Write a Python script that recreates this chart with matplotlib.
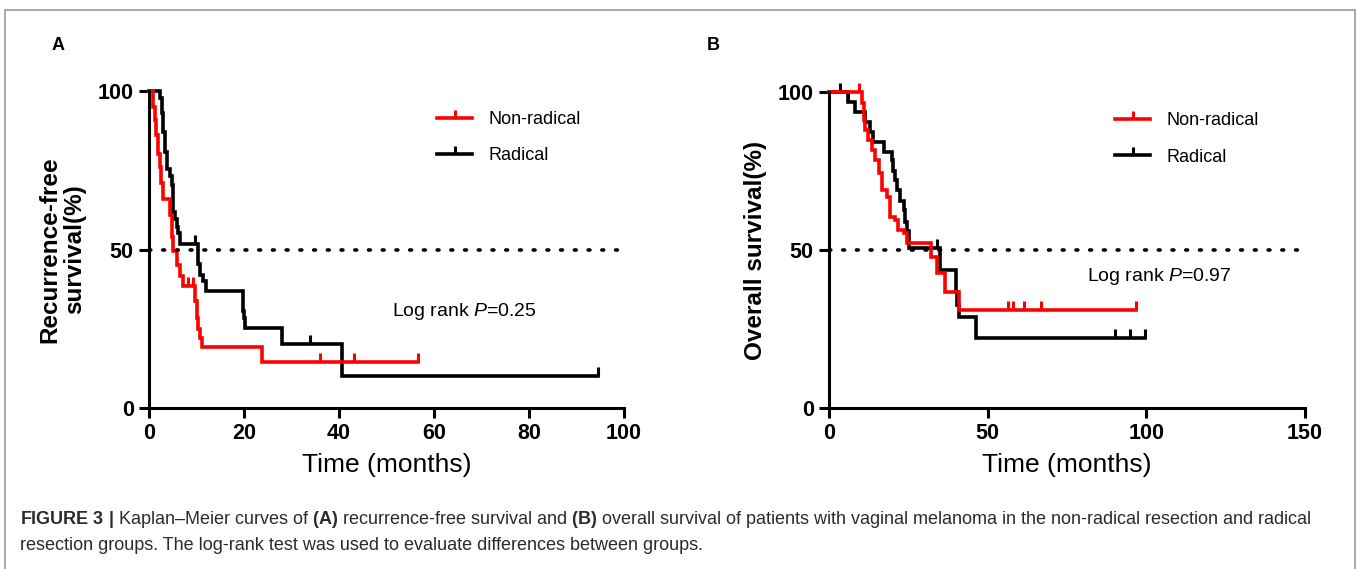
import matplotlib
matplotlib.use("Agg")
import matplotlib.pyplot as plt
import numpy as np
from matplotlib.lines import Line2D
from matplotlib.patches import Rectangle

plt.rcParams['font.family'] = ['Liberation Sans', 'DejaVu Sans']
plt.rcParams['mathtext.fontset'] = 'custom'
plt.rcParams['mathtext.rm'] = 'Liberation Sans'
plt.rcParams['mathtext.it'] = 'Liberation Sans:italic'
plt.rcParams['mathtext.bf'] = 'Liberation Sans:bold'

# panel A: recurrence-free survival (step times in months, survival in %)
a_rad_t = [0, 2.3, 2.7, 3.0, 3.4, 3.7, 4.4, 4.8, 5.1, 5.5, 5.8, 6.2, 6.5,
           10.4, 10.8, 11.4, 12.1, 19.7, 20.0, 20.3, 27.9, 40.6, 94.6]
a_rad_s = [100, 97.7, 93, 87, 80.7, 75.4, 73.3, 70.2, 61.7, 59.6, 57, 55.3, 51.6,
           45.3, 42, 40, 36.8, 30.5, 28.4, 25.2, 20.1, 10.2, 10.2]
a_rad_cens = [9.7, 33.9, 94.6]

a_non_t = [0, 0.9, 1.2, 1.5, 1.9, 2.3, 2.6, 2.9, 4.4, 4.8, 5.1, 5.8, 6.5, 7.2,
           9.7, 10.1, 10.4, 10.7, 11.1, 23.7, 56.7]
a_non_s = [100, 95, 91, 86, 80, 76, 71, 66, 61, 54, 49.5, 45, 41.6, 38.4,
           33.6, 28.5, 25, 22, 19.4, 14.6, 14.6]
a_non_cens = [8.3, 9.3, 36.0, 43.2, 56.7]

# panel B: overall survival
b_rad_t = [0, 6.0, 8.2, 11.4, 13.0, 13.9, 17.2, 19.8, 20.3, 20.8, 21.4, 22.5, 23.5,
           24.0, 24.5, 25.1, 35.1, 39.9, 40.4, 40.9, 46.2, 99.7]
b_rad_s = [100, 96.9, 93.8, 90.6, 87.4, 84.3, 81.1, 78.5, 75, 72, 69, 65.6, 62.7,
           59, 56, 50.5, 43.7, 36.8, 32.5, 28.9, 22, 22]
b_rad_cens = [3.5, 6.0, 34.1, 90.0, 94.7, 99.7]

b_non_t = [0, 10.3, 10.9, 11.4, 12.4, 13.5, 14.5, 15.6, 16.7, 18.2, 19.3, 20.9,
           21.9, 23.5, 24.6, 32.0, 34.1, 36.7, 40.9, 96.8]
b_non_s = [100, 96.4, 91, 88, 84.8, 81.6, 78.5, 74.3, 69, 66.8, 60.5, 59.5,
           56.3, 55.3, 52.1, 47.9, 42.6, 36.8, 31, 31]
b_non_cens = [9.5, 56.5, 58.0, 61.5, 66.8, 96.8]

W, H = 1358, 569
fig = plt.figure(figsize=(W / 100, H / 100), dpi=100)

tick_mark = [(0, 0), (0, 1)]


def px(x, y):
    return x / W, 1 - y / H


def km(ax, t, s, cens, color):
    ax.step(t, s, where='post', color=color, lw=2.6, solid_joinstyle='miter', clip_on=False)
    idx = np.searchsorted(t, cens, side='right') - 1
    ax.plot(cens, np.array(s)[idx], ls='none', marker=tick_mark, ms=13, mew=2.2,
            color=color, clip_on=False)


def style(ax, xmax, xticks, xlab, ylab):
    ax.set_xlim(0, xmax)
    ax.set_ylim(0, 100)
    ax.set_xticks(xticks)
    ax.set_yticks([0, 50, 100])
    ax.axhline(50, color='black', lw=2.6, ls=(0, (0.5, 3.3)), dash_capstyle='round')
    for sp in ['top', 'right']:
        ax.spines[sp].set_visible(False)
    for sp in ['left', 'bottom']:
        ax.spines[sp].set_linewidth(2.2)
    ax.tick_params(width=2.2, length=7, labelsize=15.5, pad=4)
    for lab in ax.get_xticklabels() + ax.get_yticklabels():
        lab.set_fontweight('bold')
    ax.set_xlabel(xlab, fontsize=19, labelpad=6)
    ax.set_ylabel(ylab, fontsize=17.5, fontweight='bold', labelpad=8, linespacing=1.1)


def legend(ax, loc):
    h = [Line2D([0], [0], color='red', lw=2.6, marker=tick_mark, ms=12, mew=2.2),
         Line2D([0], [0], color='black', lw=2.6, marker=tick_mark, ms=12, mew=2.2)]
    ax.legend(h, ['Non-radical', 'Radical'], frameon=False, fontsize=13,
              loc='upper left', bbox_to_anchor=loc, bbox_transform=fig.transFigure,
              borderpad=0, borderaxespad=0, handlelength=1.95, handletextpad=0.9,
              labelspacing=1.08, numpoints=1)


l, b = px(149, 408)
r, t = px(624, 91)
axA = fig.add_axes([l, b, r - l, t - b])
km(axA, a_rad_t, a_rad_s, a_rad_cens, 'black')
km(axA, a_non_t, a_non_s, a_non_cens, 'red')
style(axA, 100, [0, 20, 40, 60, 80, 100], 'Time (months)', 'Recurrence-free\nsurvival(%)')
legend(axA, px(437, 111))
axA.text(*px(392, 312), 'Log rank $\\mathit{P}$=0.25', transform=fig.transFigure,
         fontsize=14, va='center', ha='left')

l, b = px(829, 408)
r, t = px(1305, 92)
axB = fig.add_axes([l, b, r - l, t - b])
km(axB, b_rad_t, b_rad_s, b_rad_cens, 'black')
km(axB, b_non_t, b_non_s, b_non_cens, 'red')
style(axB, 150, [0, 50, 100, 150], 'Time (months)', 'Overall survival(%)')
axB.spines['left'].set_bounds(0, 100)
legend(axB, px(1115, 112))
axB.text(*px(1087, 277), 'Log rank $\\mathit{P}$=0.97', transform=fig.transFigure,
         fontsize=14, va='center', ha='left')

fig.text(*px(52, 46), 'A', fontsize=13, fontweight='bold', va='center')
fig.text(*px(707, 46), 'B', fontsize=13, fontweight='bold', va='center')

fig.patches.append(Rectangle(px(5, 600), (1355 - 5) / W, 590 / H, transform=fig.transFigure,
                             fill=False, edgecolor='#9a9a9a', lw=1.2))

cap_col = '#2b2b2b'
line1 = ('$\\mathbf{FIGURE\\ 3\\ |}$ Kaplan\u2013Meier curves of $\\mathbf{(A)}$ recurrence-free '
         'survival and $\\mathbf{(B)}$ overall survival of patients with vaginal melanoma in the '
         'non-radical resection and radical')
line2 = 'resection groups. The log-rank test was used to evaluate differences between groups.'
fig.text(*px(20, 520), line1, fontsize=12.95, color=cap_col, va='center')
fig.text(*px(20, 546), line2, fontsize=12.95, color=cap_col, va='center')

fig.savefig('out.png', dpi=100)
